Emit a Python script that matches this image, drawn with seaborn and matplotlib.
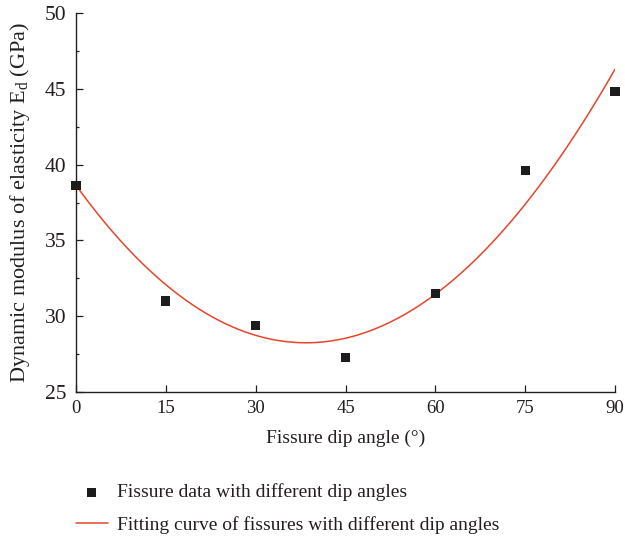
import matplotlib
matplotlib.use("Agg")
import matplotlib.pyplot as plt
import seaborn as sns
import pandas as pd

# Measured data points
dip_angle = [0, 15, 30, 45, 60, 75, 90]
modulus = [38.6, 31.0, 29.4, 27.3, 31.5, 39.6, 44.8]

# Fitted curve, values at the tick positions
fit_angle = [0, 15, 30, 45, 60, 75, 90]
fit_modulus = [38.64, 32.05, 28.78, 28.50, 31.50, 37.35, 46.30]

x_ticks = [0, 15, 30, 45, 60, 75, 90]
y_ticks = [25, 30, 35, 40, 45, 50]
y_minor = [27.5, 32.5, 37.5, 42.5, 47.5]

sns.set_style("ticks")
plt.rcParams["font.family"] = ["Liberation Serif", "DejaVu Serif"]
plt.rcParams["mathtext.fontset"] = "custom"
plt.rcParams["mathtext.rm"] = "Liberation Serif"
plt.rcParams["mathtext.it"] = "Liberation Serif:italic"

TXT = "#231f20"
pts = pd.DataFrame({"angle": dip_angle, "modulus": modulus})
fit = pd.DataFrame({"angle": fit_angle, "modulus": fit_modulus})

fig = plt.figure(figsize=(6.25, 5.4), dpi=100)
ax = fig.add_axes([76 / 625, 1 - 392 / 540, (615 - 76) / 625, (392 - 13) / 540])

sns.regplot(data=fit, x="angle", y="modulus", ax=ax, order=3, ci=None, scatter=False,
            truncate=True, color="#e8442c", line_kws={"linewidth": 1.1, "zorder": 2},
            label="Fitting curve of fissures with different dip angles")
sns.scatterplot(data=pts, x="angle", y="modulus", ax=ax, marker="s", s=44,
                color="#1c1c1c", edgecolor="none", linewidth=0,
                label="Fissure data with different dip angles", zorder=3, clip_on=False)

ax.set_xlim(0, 90)
ax.set_ylim(25, 50)
ax.set_xticks(x_ticks)
ax.set_yticks(y_ticks)
ax.set_yticks(y_minor, minor=True)
ax.tick_params(axis="both", which="major", direction="in", length=5, width=0.9,
               colors=TXT, pad=6)
ax.tick_params(axis="x", labelsize=13.5)
ax.tick_params(axis="y", labelsize=15.5, pad=7)
ax.tick_params(axis="y", which="minor", direction="in", length=2.5, width=0.9, colors=TXT)
for s in ["top", "right"]:
    ax.spines[s].set_visible(False)
for s in ["left", "bottom"]:
    ax.spines[s].set_linewidth(1.0)
    ax.spines[s].set_color(TXT)

ax.set_xlabel("Fissure dip angle (°)", fontsize=14, color=TXT, labelpad=9)
ax.set_ylabel(r"Dynamic modulus of elasticity E$_\mathrm{d}$ (GPa)", fontsize=16,
              color=TXT, labelpad=9)

handles, labels = ax.get_legend_handles_labels()
ax.get_legend().remove()
order = [labels.index("Fissure data with different dip angles"),
         labels.index("Fitting curve of fissures with different dip angles")]
fig.legend([handles[i] for i in order], [labels[i] for i in order],
           loc="upper left", bbox_to_anchor=(58 / 625, 1 - 466 / 540),
           frameon=False, fontsize=14, handlelength=1.65, handletextpad=0.5,
           labelspacing=0.75, labelcolor=TXT)

fig.savefig("out.png", dpi=100)
